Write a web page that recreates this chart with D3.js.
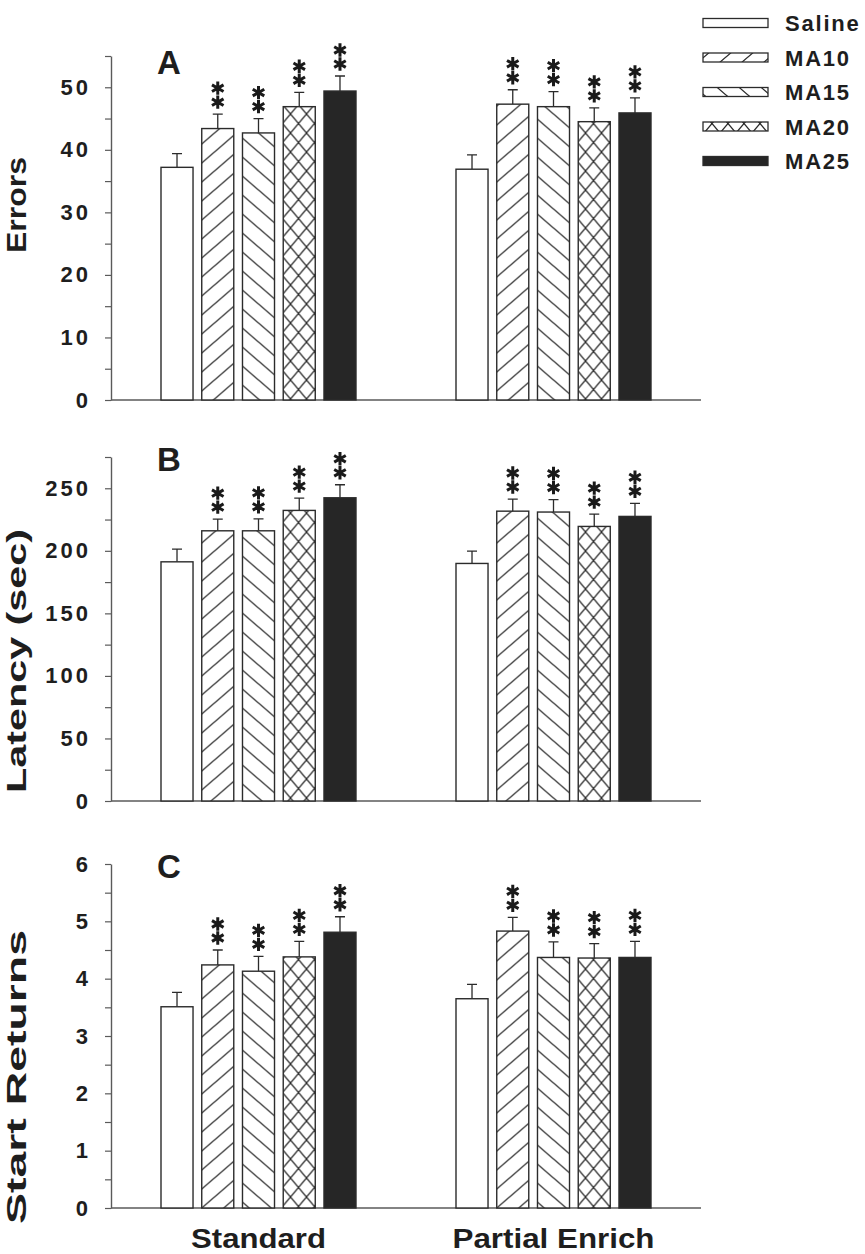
<!DOCTYPE html>
<html><head><meta charset="utf-8">
<script src="https://cdn.jsdelivr.net/npm/d3@7"></script>
<style>
body{margin:0;background:#fff;}
svg{display:block;}
text{font-family:"Liberation Sans",Arial,sans-serif;font-weight:bold;fill:#1e1e1e;}
</style></head>
<body>
<svg id="chart" width="865" height="1254"></svg>
<script>
// ---- data ----
const groups = ["Standard", "Partial Enrich"];
const series = ["Saline", "MA10", "MA15", "MA20", "MA25"];

const errorsStandard = [37.2, 43.4, 42.7, 46.9, 49.4];
const errorsStandardSem = [2.2, 2.3, 2.3, 2.3, 2.4];
const errorsPartial = [36.9, 47.3, 46.9, 44.5, 45.9];
const errorsPartialSem = [2.3, 2.3, 2.4, 2.2, 2.4];

const latencyStandard = [191.2, 216.0, 216.0, 232.3, 242.4];
const latencyStandardSem = [10.1, 9.3, 9.6, 9.8, 10.4];
const latencyPartial = [189.9, 231.7, 231.0, 219.5, 227.5];
const latencyPartialSem = [9.8, 9.7, 10.0, 9.8, 10.5];

const returnsStandard = [3.51, 4.24, 4.13, 4.38, 4.81];
const returnsStandardSem = [0.25, 0.26, 0.26, 0.27, 0.27];
const returnsPartial = [3.65, 4.83, 4.37, 4.36, 4.37];
const returnsPartialSem = [0.25, 0.24, 0.27, 0.25, 0.28];

const sigStandard = ["", "**", "**", "**", "**"];
const sigPartial = ["", "**", "**", "**", "**"];

const errorsTicks = [0, 10, 20, 30, 40, 50];
const latencyTicks = [0, 50, 100, 150, 200, 250];
const returnsTicks = [0, 1, 2, 3, 4, 5, 6];

// ---- layout ----
const svg = d3.select("#chart");
const ink = "#2b2b2b", axisCol = "#5a5a5a";

// patterns
const defs = svg.append("defs");
function pat(id, w, h, d) {
  const p = defs.append("pattern").attr("id", id).attr("patternUnits", "userSpaceOnUse")
    .attr("width", w).attr("height", h);
  p.append("rect").attr("width", w).attr("height", h).attr("fill", "#fff");
  p.append("path").attr("d", d).attr("stroke", ink).attr("stroke-width", 1.3).attr("fill", "none");
}
pat("p10", 22, 19, "M0,19L22,0M-11,9.5L11,-9.5M11,28.5L33,9.5");
pat("p15", 22, 19, "M0,0L22,19M-11,9.5L11,28.5M11,-9.5L33,9.5");
pat("p20", 16, 19, "M0,0L16,19M0,19L16,0M-8,9.5L8,-9.5M-8,9.5L8,28.5M8,-9.5L24,9.5M8,28.5L24,9.5");
const fills = d3.scaleOrdinal().domain(series)
  .range(["#ffffff", "url(#p10)", "url(#p15)", "url(#p20)", "#262626"]);

const x0 = d3.scaleBand().domain(groups).range([111, 701]).padding(0);
const x1 = d3.scaleBand().domain(series).range([-97.5, 97.5]).paddingInner(0.214).paddingOuter(0);

const panels = [
  {letter: "A", title: "Errors", top: 56, bottom: 400, max: 55, minor: 5, ticks: errorsTicks,
   data: [[errorsStandard, errorsStandardSem, sigStandard], [errorsPartial, errorsPartialSem, sigPartial]],
   titleY: 205, titleLen: 96, letterY: 74},
  {letter: "B", title: "Latency (sec)", top: 457, bottom: 801, max: 275, minor: 25, ticks: latencyTicks,
   data: [[latencyStandard, latencyStandardSem, sigStandard], [latencyPartial, latencyPartialSem, sigPartial]],
   titleY: 661, titleLen: 264, letterY: 471},
  {letter: "C", title: "Start Returns", top: 864, bottom: 1208, max: 6, minor: 0.5, ticks: returnsTicks,
   data: [[returnsStandard, returnsStandardSem, sigStandard], [returnsPartial, returnsPartialSem, sigPartial]],
   titleY: 1077, titleLen: 294, letterY: 878}
];

const star = d3.symbol().type(d3.symbolAsterisk).size(125);

panels.forEach((P, pi) => {
  const y = d3.scaleLinear().domain([0, P.max]).range([P.bottom, P.top]);
  const g = svg.append("g");

  // y axis
  const allTicks = d3.range(0, P.max + P.minor / 2, P.minor).map(v => +v.toFixed(3));
  const ax = d3.axisLeft(y).tickValues(allTicks).tickSize(6).tickSizeOuter(0).tickPadding(14)
    .tickFormat(v => P.ticks.some(t => Math.abs(t - v) < 1e-6) ? d3.format("d")(v) : "");
  const ag = g.append("g").attr("transform", "translate(111,0)").call(ax);
  ag.select(".domain").attr("stroke", axisCol).attr("stroke-width", 1.4);
  ag.selectAll(".tick line").attr("stroke", axisCol).attr("stroke-width", 1.2);
  ag.selectAll(".tick text").attr("font-size", 22).attr("font-family", null)
    .style("letter-spacing", "3px").attr("fill", "#1e1e1e");

  // x axis line
  g.append("line").attr("x1", x0.range()[0]).attr("x2", x0.range()[1])
    .attr("y1", y(0)).attr("y2", y(0)).attr("stroke", axisCol).attr("stroke-width", 1.4);

  // bars
  groups.forEach((grp, gi) => {
    const [vals, sems, sig] = P.data[gi];
    const cx = x0(grp) + x0.bandwidth() / 2;
    const gg = g.append("g").attr("transform", `translate(${cx},0)`);
    const rows = series.map((s, i) => ({s, v: vals[i], e: sems[i], sig: sig[i]}));
    // error bars
    gg.selectAll(".eb").data(rows).join("path")
      .attr("d", d => {
        const xc = x1(d.s) + x1.bandwidth() / 2;
        return `M${xc},${y(d.v)}V${y(d.v + d.e)}M${xc - 5},${y(d.v + d.e)}H${xc + 5}`;
      })
      .attr("stroke", ink).attr("stroke-width", 1.3).attr("fill", "none");
    gg.selectAll("rect").data(rows).join("rect")
      .attr("x", d => x1(d.s)).attr("width", x1.bandwidth())
      .attr("y", d => y(d.v)).attr("height", d => y(0) - y(d.v))
      .attr("fill", d => fills(d.s)).attr("stroke", ink).attr("stroke-width", 1.4);
    // significance
    rows.filter(d => d.sig).forEach(d => {
      const xc = x1(d.s) + x1.bandwidth() / 2;
      const yt = y(d.v + d.e);
      d3.range(d.sig.length).forEach(k => {
        gg.append("path").attr("d", star)
          .attr("transform", `translate(${xc},${yt - 12 - 14 * k})`)
          .attr("stroke", "#1a1a1a").attr("stroke-width", 3).attr("fill", "none");
      });
    });
  });

  // panel letter
  g.append("text").attr("x", 157).attr("y", P.letterY).attr("font-size", 33).text(P.letter);

  // y title
  g.append("text").attr("transform", `translate(26,${P.titleY}) rotate(-90)`)
    .attr("text-anchor", "middle").attr("font-size", 28)
    .attr("textLength", P.titleLen).attr("lengthAdjust", "spacingAndGlyphs").text(P.title);

  // category labels on bottom panel
  if (pi === panels.length - 1) {
    const lens = [135, 202];
    groups.forEach((grp, gi) => {
      g.append("text").attr("x", x0(grp) + x0.bandwidth() / 2).attr("y", 1248)
        .attr("text-anchor", "middle").attr("font-size", 27)
        .attr("textLength", lens[gi]).attr("lengthAdjust", "spacingAndGlyphs").text(grp);
    });
  }
});

// legend
const leg = svg.append("g");
const ly = d3.scalePoint().domain(series).range([23, 161]);
series.forEach(s => {
  leg.append("rect").attr("x", 703).attr("y", ly(s) - 4.5).attr("width", 65).attr("height", 9)
    .attr("fill", fills(s)).attr("stroke", ink).attr("stroke-width", 1.3);
  leg.append("text").attr("x", 785).attr("y", ly(s) + 8).attr("font-size", 22)
    .style("letter-spacing", "1.8px").text(s);
});
</script>
</body></html>
